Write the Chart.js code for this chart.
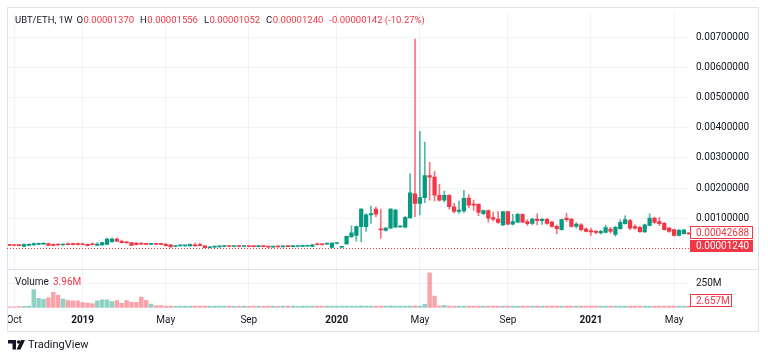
<!DOCTYPE html>
<html>
<head>
<meta charset="utf-8">
<script src="https://cdn.jsdelivr.net/npm/chart.js@4.4.0/dist/chart.umd.min.js"></script>
<style>
  html, body { margin: 0; padding: 0; background: #fff; }
  #wrap { width: 768px; height: 359px; position: relative; }
</style>
</head>
<body>
<div id="wrap"><canvas id="chart"></canvas></div>
<script>
// UBT/ETH weekly candles, Sep 2018 -> May 2021
// candle prices below are in units of 0.0001 ETH
const UNIT = 1e-4;

const opens = [
  1.1, 1.0, 1.0, 0.6, 1.0, 1.1, 1.3, 1.4, 1.6, 1.3,
  1.2, 1.1, 1.4, 1.6, 1.6, 1.5, 1.3, 1.4, 1.0, 1.1,
  1.3, 2.2, 3.1, 2.3, 2.0, 1.9, 1.7, 1.5, 1.4, 1.3,
  1.45, 1.5, 1.4, 1.2, 0.6, 0.8, 0.8, 0.8, 1.2, 1.1,
  0.8, 0.2, 0.4, 0.5, 0.6, 0.7, 0.6, 0.65, 0.6, 0.65,
  0.6, 0.55, 0.65, 0.55, 0.4, 0.55, 0.5, 0.6, 0.55, 0.6,
  0.65, 0.7, 0.6, 1.5, 1.3, 1.4, 0.3, 1.6, 0.35, 1.5,
  3.8, 4.3, 7.2, 7.2, 11.1, 13.0, 6.5, 5.9, 6.7, 7.0,
  7.1, 7.0, 10.1, 18.1, 14.9, 16.8, 24.1, 23.6, 17.6, 16.0,
  17.6, 13.8, 12.2, 12.4, 16.7, 14.7, 14.7, 11.5, 12.5, 10.2,
  9.7, 7.8, 12.2, 8.0, 8.7, 11.3, 8.9, 8.3, 9.7, 9.2,
  9.6, 8.7, 7.3, 6.2, 10.0, 9.7, 7.3, 7.8, 6.4, 5.9,
  5.6, 5.1, 5.3, 6.4, 4.6, 6.5, 8.2, 9.2, 7.2, 7.0,
  5.4, 7.6, 10.0, 8.9, 8.3, 6.7, 6.2, 4.3, 4.9, 5.0
];
const highs = [
  1.2, 1.1, 1.1, 1.4, 1.6, 1.8, 1.7, 1.7, 1.7, 1.5,
  1.4, 1.5, 1.8, 1.7, 1.7, 1.7, 1.4, 1.8, 1.9, 2.0,
  3.4, 3.5, 3.5, 2.7, 2.2, 2.0, 1.9, 1.8, 1.6, 1.6,
  1.5, 1.6, 1.5, 1.3, 1.0, 1.0, 1.0, 1.4, 1.7, 1.7,
  1.0, 0.6, 0.6, 0.8, 0.9, 0.8, 0.7, 0.75, 0.7, 0.7,
  0.7, 0.7, 0.7, 0.65, 0.6, 0.6, 0.65, 0.7, 0.7, 0.7,
  0.8, 0.85, 1.3, 1.7, 1.6, 1.6, 1.8, 1.8, 0.6, 4.1,
  7.5, 7.5, 13.2, 11.5, 14.0, 13.7, 13.0, 6.9, 13.2, 12.9,
  7.3, 10.5, 24.7, 69.4, 38.8, 35.2, 28.5, 25.5, 21.2, 19.0,
  17.8, 15.0, 15.7, 19.2, 17.8, 16.0, 14.7, 12.8, 12.8, 12.0,
  12.2, 12.2, 12.3, 11.3, 11.6, 11.4, 9.5, 10.0, 11.4, 10.0,
  10.0, 9.0, 7.8, 9.7, 11.6, 9.9, 8.5, 8.2, 6.8, 6.7,
  6.0, 6.0, 7.6, 7.0, 7.3, 9.5, 10.8, 9.6, 7.8, 7.3,
  8.0, 11.4, 10.4, 10.3, 8.6, 7.0, 6.4, 6.3, 6.2, 5.1
];
const lows = [
  0.9, 0.9, 0.8, 0.5, 0.9, 1.0, 1.1, 1.2, 0.9, 0.9,
  1.0, 1.0, 1.1, 1.1, 1.1, 1.1, 0.8, 1.1, 0.9, 1.0,
  1.2, 2.0, 2.3, 1.8, 1.7, 0.9, 1.1, 1.3, 1.2, 1.2,
  1.2, 1.2, 0.8, 0.4, 0.5, 0.7, 0.7, 0.7, 0.7, 0.8,
  0.1, 0.1, 0.3, 0.4, 0.5, 0.5, 0.5, 0.5, 0.5, 0.5,
  0.45, 0.5, 0.5, 0.3, 0.35, 0.4, 0.45, 0.5, 0.5, 0.5,
  0.6, 0.6, 0.5, 1.1, 1.1, 1.3, 0.2, 1.5, 0.2, 1.3,
  3.7, 2.4, 2.2, 5.6, 8.3, 10.5, 3.3, 5.7, 6.6, 6.9,
  7.0, 6.8, 10.0, 10.5, 11.1, 15.1, 16.0, 15.7, 15.6, 15.4,
  13.0, 11.7, 11.6, 11.8, 13.5, 12.6, 10.8, 11.1, 8.7, 9.1,
  8.3, 7.5, 7.8, 7.8, 8.5, 8.5, 7.6, 7.8, 7.8, 7.9,
  7.9, 7.0, 4.8, 6.0, 8.9, 7.0, 6.7, 5.8, 5.4, 4.3,
  4.8, 4.8, 5.1, 5.0, 4.0, 6.3, 8.0, 6.2, 6.3, 5.3,
  5.3, 7.4, 8.3, 7.5, 6.0, 5.3, 4.0, 4.1, 4.7, 4.6
];
const closes = [
  1.0, 0.95, 0.9, 1.3, 1.3, 1.6, 1.5, 1.5, 1.0, 1.0,
  1.1, 1.3, 1.2, 1.2, 1.2, 1.2, 0.9, 1.2, 1.4, 1.9,
  3.1, 3.1, 2.4, 1.9, 1.8, 1.0, 1.2, 1.4, 1.3, 1.4,
  1.35, 1.3, 0.9, 0.5, 0.9, 0.9, 0.9, 1.3, 0.8, 0.9,
  0.2, 0.5, 0.5, 0.7, 0.7, 0.6, 0.65, 0.6, 0.65, 0.6,
  0.55, 0.65, 0.55, 0.4, 0.55, 0.5, 0.6, 0.55, 0.6, 0.65,
  0.75, 0.75, 1.2, 1.2, 1.2, 1.5, 1.7, 1.7, 0.45, 4.0,
  5.1, 7.2, 13.0, 11.1, 11.5, 11.3, 6.1, 6.7, 13.0, 12.7,
  7.2, 10.3, 18.4, 14.9, 16.8, 24.1, 23.6, 17.6, 16.0, 17.6,
  13.8, 12.2, 12.7, 16.6, 14.3, 14.3, 11.9, 12.5, 10.0, 9.7,
  8.6, 12.2, 8.0, 8.9, 11.3, 8.7, 8.2, 9.7, 9.2, 9.6,
  8.3, 7.3, 6.5, 9.5, 9.5, 7.3, 8.0, 6.2, 5.6, 5.4,
  5.3, 5.6, 6.9, 5.6, 7.0, 8.6, 9.5, 6.7, 6.7, 5.5,
  7.8, 10.0, 8.6, 8.2, 6.2, 5.6, 4.3, 6.0, 6.1, 4.8
];
// weekly volume, millions of UBT
const volumes = [
  6, 6, 8, 10, 12, 187, 94, 83, 100, 156,
  125, 86, 70, 68, 68, 49, 45, 38, 68, 78,
  78, 60, 70, 42, 70, 55, 52, 107, 73, 35,
  18, 18, 14, 14, 10, 12, 12, 13, 12, 12,
  12, 13, 12, 12, 12, 12, 11, 12, 12, 11,
  12, 12, 11, 12, 12, 11, 12, 12, 12, 11,
  12, 12, 13, 12, 12, 12, 14, 13, 12, 14,
  14, 13, 15, 14, 13, 14, 14, 13, 15, 14,
  13, 14, 14, 16, 12, 31, 361, 118, 15, 20,
  14, 13, 13, 14, 13, 13, 13, 12, 13, 13,
  13, 14, 13, 13, 13, 14, 13, 13, 14, 13,
  13, 14, 13, 14, 13, 13, 14, 13, 13, 14,
  13, 13, 14, 13, 14, 13, 13, 14, 13, 14,
  13, 14, 13, 13, 14, 13, 14, 13, 13, 14
];

const timeTickIdx = [1, 15, 32, 49, 67, 84, 102, 119, 136];
const timeTickLabels = ['Oct', '2019', 'May', 'Sep', '2020', 'May', 'Sep', '2021', 'May'];
const priceTicks = [0.001, 0.002, 0.003, 0.004, 0.005, 0.006, 0.007];
const volTicks = [250e6];
const volTickLabels = ['250M'];

const headerOHLC = [0.0000137, 0.00001556, 0.00001052, 0.0000124];
const headerChange = '-0.00000142 (-10.27%)';
const priceLines = [0.00042688, 0.0000124];
const volumeNow = ['3.96M', '2.657M'];

const UP = '#089981', DOWN = '#f23645';
const UP_WICK = 'rgba(8,153,129,0.7)', DOWN_WICK = 'rgba(242,54,69,0.7)';
const UP_VOL = 'rgba(8,153,129,0.45)', DOWN_VOL = 'rgba(242,54,69,0.45)';
const TXT = '#131722', GRID = '#f0f3fa', FRAME = '#e0e3eb';
const FONT = 'Roboto, "DejaVu Sans", sans-serif';

const isUp = i => closes[i] >= opens[i];

const wickData = opens.map((o, i) => ({ x: i, y: [lows[i] * UNIT, highs[i] * UNIT] }));
const bodyData = opens.map((o, i) => ({ x: i, y: [o * UNIT, closes[i] * UNIT] }));
const volData = volumes.map((v, i) => ({ x: i, y: v * 1e6 }));

const decor = {
  id: 'decor',
  beforeDraw(chart) {
    const c = chart.ctx;
    c.save();
    c.fillStyle = '#fff';
    c.fillRect(0, 0, chart.width, chart.height);
    c.restore();
  },
  afterDraw(chart) {
    const c = chart.ctx, ca = chart.chartArea, ys = chart.scales.y;
    c.save();

    // frame + pane separator
    c.strokeStyle = FRAME;
    c.lineWidth = 1;
    c.strokeRect(7.5, 7.5, 751, 324);
    const sep = Math.round(ys.bottom) + 0.5;
    c.beginPath(); c.moveTo(7.5, sep); c.lineTo(758.5, sep); c.stroke();

    // last price dotted line
    const lp = Math.round(ys.getPixelForValue(priceLines[1])) + 0.5;
    c.strokeStyle = DOWN;
    c.setLineDash([1, 2]);
    c.beginPath(); c.moveTo(ca.left, lp); c.lineTo(ca.right, lp); c.stroke();
    c.setLineDash([]);

    c.font = '10px ' + FONT;
    c.textBaseline = 'middle';
    c.textAlign = 'left';

    // price scale labels
    c.fillStyle = '#fff';
    c.fillRect(690.5, 226.5, 62, 12);
    c.strokeStyle = DOWN;
    c.strokeRect(690.5, 226.5, 62, 12);
    c.fillStyle = DOWN;
    c.fillText(priceLines[0].toFixed(8), 696, 233);
    c.fillRect(690, 240, 63, 12);
    c.fillStyle = '#fff';
    c.fillText(priceLines[1].toFixed(8), 696, 246.5);

    // volume scale label
    c.fillStyle = '#fff';
    c.fillRect(690.5, 294.5, 41, 12);
    c.strokeStyle = DOWN;
    c.strokeRect(690.5, 294.5, 41, 12);
    c.fillStyle = DOWN;
    c.fillText(volumeNow[1], 696, 301);

    // legend line
    c.font = '9.5px ' + FONT;
    let x = 15;
    const seg = (t, col, gap) => {
      c.fillStyle = col;
      c.fillText(t, x, 21);
      x += c.measureText(t).width + gap;
    };
    seg('UBT/ETH, 1W', TXT, 4);
    ['O', 'H', 'L', 'C'].forEach((k, i) => {
      seg(k, TXT, 0.5);
      seg(headerOHLC[i].toFixed(8), DOWN, 6);
    });
    seg(headerChange, DOWN, 0);

    // volume legend
    c.font = '10px ' + FONT;
    c.fillStyle = TXT;
    c.fillText('Volume', 15, 282);
    c.fillStyle = DOWN;
    c.fillText(volumeNow[0], 53, 282);

    // TradingView mark
    c.fillStyle = TXT;
    c.fillRect(8, 340, 8, 3.5);
    c.fillRect(12.5, 340, 3.5, 9.5);
    c.beginPath(); c.arc(18.6, 342, 1.8, 0, Math.PI * 2); c.fill();
    c.beginPath();
    c.moveTo(21, 340); c.lineTo(25, 340); c.lineTo(20.5, 349.5); c.lineTo(16.5, 349.5);
    c.closePath(); c.fill();
    c.font = '11px ' + FONT;
    c.fillText('TradingView', 28, 345.5);

    c.restore();
  }
};

const ctx = document.getElementById('chart').getContext('2d');
new Chart(ctx, {
  type: 'bar',
  data: {
    datasets: [
      {
        data: volData,
        yAxisID: 'yv',
        backgroundColor: c => isUp(c.dataIndex) ? UP_VOL : DOWN_VOL,
        barThickness: 3.8,
        order: 3
      },
      {
        data: wickData,
        yAxisID: 'y',
        backgroundColor: c => isUp(c.dataIndex) ? UP_WICK : DOWN_WICK,
        barThickness: 1,
        order: 2
      },
      {
        data: bodyData,
        yAxisID: 'y',
        backgroundColor: c => isUp(c.dataIndex) ? UP : DOWN,
        barThickness: 3.6,
        minBarLength: 1,
        order: 1
      }
    ]
  },
  options: {
    responsive: true,
    maintainAspectRatio: false,
    animation: false,
    devicePixelRatio: 1,
    datasets: { bar: { grouped: false } },
    layout: { padding: { left: 7, right: 9, top: 7, bottom: 27 } },
    plugins: { legend: { display: false }, tooltip: { enabled: false } },
    scales: {
      x: {
        type: 'linear',
        position: 'bottom',
        min: -0.47,
        max: 139.26,
        offset: false,
        grid: { color: GRID, drawTicks: false, offset: false },
        border: { display: false },
        afterBuildTicks: s => { s.ticks = timeTickIdx.map(v => ({ value: v })); },
        afterFit: s => { s.height = 22; },
        ticks: {
          autoSkip: false,
          maxRotation: 0,
          padding: 4,
          color: TXT,
          font: c => ({ family: FONT, size: 10, weight: /^20/.test(timeTickLabels[c.index] || '') ? 'bold' : 'normal' }),
          callback: (v, i) => timeTickLabels[i]
        }
      },
      y: {
        type: 'linear',
        position: 'right',
        stack: 'panes',
        stackWeight: 261,
        min: -0.000675,
        max: 0.007835,
        grid: { color: GRID, drawTicks: false },
        border: { display: false },
        afterBuildTicks: s => { s.ticks = priceTicks.map(v => ({ value: v })); },
        afterFit: s => { s.width = 69; },
        ticks: {
          padding: 6,
          color: TXT,
          font: { family: FONT, size: 10 },
          callback: v => v.toFixed(8)
        }
      },
      yv: {
        type: 'linear',
        position: 'right',
        stack: 'panes',
        stackWeight: 42,
        min: -28e6,
        max: 405e6,
        grid: { color: GRID, drawTicks: false },
        border: { display: false },
        afterBuildTicks: s => { s.ticks = volTicks.map(v => ({ value: v })); },
        afterFit: s => { s.width = 69; },
        ticks: {
          padding: 6,
          color: TXT,
          font: { family: FONT, size: 10 },
          callback: (v, i) => volTickLabels[i]
        }
      }
    }
  },
  plugins: [decor]
});
</script>
</body>
</html>
